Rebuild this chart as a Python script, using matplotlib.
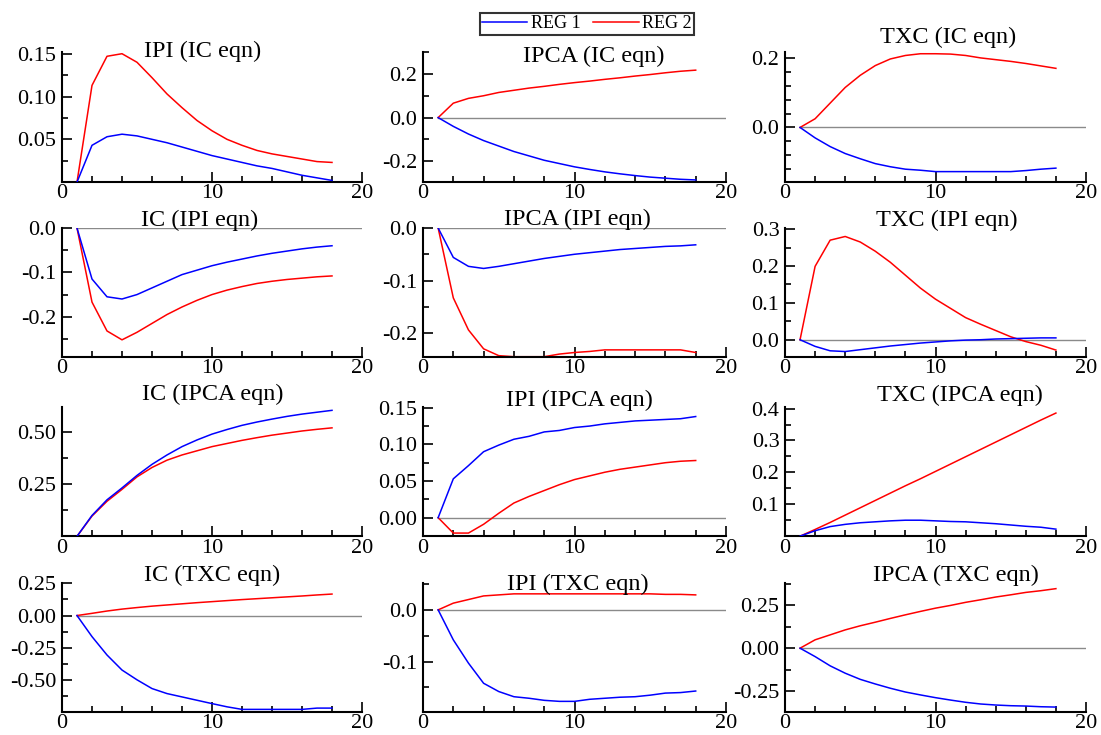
"""Impulse responses, REG 1 vs REG 2, 4x3 grid (OxMetrics look)."""
import matplotlib
matplotlib.use("Agg")
import matplotlib.pyplot as plt
from matplotlib.ticker import MultipleLocator, FormatStrFormatter

plt.rcParams.update({
    "font.family": ["Liberation Serif", "DejaVu Serif"],
    "axes.unicode_minus": False,
})

W, H = 1101, 735

horizon = list(range(1, 19))

titles = [
    "IPI (IC eqn)", "IPCA (IC eqn)", "TXC (IC eqn)",
    "IC (IPI eqn)", "IPCA (IPI eqn)", "TXC (IPI eqn)",
    "IC (IPCA eqn)", "IPI (IPCA eqn)", "TXC (IPCA eqn)",
    "IC (TXC eqn)", "IPI (TXC eqn)", "IPCA (TXC eqn)",
]

# row 1: IC equation
ipi_ic_reg1 = [0, 0.043, 0.053, 0.056, 0.054, 0.050, 0.046, 0.041, 0.036,
               0.031, 0.027, 0.023, 0.019, 0.016, 0.012, 0.008, 0.005, 0.002]
ipi_ic_reg2 = [0, 0.113, 0.147, 0.150, 0.140, 0.122, 0.103, 0.087, 0.072,
               0.060, 0.050, 0.043, 0.037, 0.033, 0.030, 0.027, 0.024, 0.023]
ipca_ic_reg1 = [0, -0.040, -0.075, -0.105, -0.130, -0.155, -0.175, -0.195, -0.210,
                -0.225, -0.237, -0.248, -0.257, -0.265, -0.272, -0.277, -0.282, -0.285]
ipca_ic_reg2 = [0, 0.066, 0.088, 0.100, 0.115, 0.125, 0.135, 0.143, 0.152,
                0.160, 0.167, 0.175, 0.182, 0.190, 0.197, 0.205, 0.212, 0.217]
txc_ic_reg1 = [0, -0.030, -0.055, -0.075, -0.090, -0.104, -0.113, -0.120, -0.123,
               -0.127, -0.127, -0.127, -0.127, -0.127, -0.127, -0.124, -0.120, -0.117]
txc_ic_reg2 = [0, 0.025, 0.070, 0.115, 0.150, 0.178, 0.197, 0.207, 0.212,
               0.212, 0.211, 0.207, 0.200, 0.195, 0.190, 0.184, 0.177, 0.170]

# row 2: IPI equation
ic_ipi_reg1 = [0, -0.115, -0.155, -0.160, -0.150, -0.135, -0.120, -0.105, -0.095,
               -0.085, -0.077, -0.070, -0.063, -0.057, -0.052, -0.047, -0.043, -0.040]
ic_ipi_reg2 = [0, -0.167, -0.232, -0.252, -0.235, -0.215, -0.195, -0.178, -0.163,
               -0.150, -0.140, -0.132, -0.125, -0.120, -0.116, -0.113, -0.110, -0.108]
ipca_ipi_reg1 = [0, -0.056, -0.073, -0.077, -0.073, -0.068, -0.063, -0.058, -0.054,
                 -0.050, -0.047, -0.044, -0.041, -0.039, -0.037, -0.035, -0.034, -0.032]
ipca_ipi_reg2 = [0, -0.133, -0.194, -0.230, -0.243, -0.245, -0.245, -0.245, -0.240,
                 -0.237, -0.235, -0.232, -0.232, -0.232, -0.232, -0.232, -0.232, -0.237]
txc_ipi_reg1 = [0, -0.018, -0.030, -0.032, -0.027, -0.022, -0.017, -0.013, -0.009,
                -0.006, -0.003, -0.001, 0.000, 0.002, 0.003, 0.004, 0.005, 0.005]
txc_ipi_reg2 = [0, 0.199, 0.270, 0.280, 0.265, 0.240, 0.210, 0.175, 0.140,
                0.110, 0.085, 0.060, 0.042, 0.025, 0.008, -0.005, -0.015, -0.028]

# row 3: IPCA equation
ic_ipca_reg1 = [0, 0.100, 0.175, 0.232, 0.292, 0.345, 0.390, 0.430, 0.462,
                0.490, 0.512, 0.532, 0.548, 0.562, 0.575, 0.586, 0.595, 0.604]
ic_ipca_reg2 = [0, 0.097, 0.168, 0.225, 0.285, 0.330, 0.365, 0.390, 0.410,
                0.430, 0.445, 0.460, 0.473, 0.485, 0.495, 0.505, 0.513, 0.520]
ipi_ipca_reg1 = [0, 0.053, 0.071, 0.090, 0.099, 0.107, 0.111, 0.117, 0.119,
                 0.123, 0.125, 0.128, 0.130, 0.132, 0.133, 0.134, 0.135, 0.138]
ipi_ipca_reg2 = [0, -0.021, -0.021, -0.009, 0.006, 0.020, 0.029, 0.037, 0.045,
                 0.052, 0.057, 0.062, 0.066, 0.069, 0.072, 0.075, 0.077, 0.078]
txc_ipca_reg1 = [0, 0.017, 0.030, 0.037, 0.042, 0.045, 0.048, 0.050, 0.050,
                 0.048, 0.046, 0.045, 0.042, 0.039, 0.035, 0.031, 0.028, 0.022]
txc_ipca_reg2 = [0, 0.021, 0.043, 0.066, 0.089, 0.112, 0.135, 0.158, 0.180,
                 0.203, 0.226, 0.249, 0.272, 0.295, 0.318, 0.341, 0.364, 0.386]

# row 4: TXC equation
ic_txc_reg1 = [0, -0.164, -0.307, -0.424, -0.500, -0.568, -0.607, -0.633, -0.659,
               -0.685, -0.710, -0.730, -0.730, -0.730, -0.730, -0.730, -0.720, -0.720]
ic_txc_reg2 = [0, 0.017, 0.035, 0.050, 0.062, 0.073, 0.082, 0.091, 0.100,
               0.108, 0.116, 0.124, 0.131, 0.138, 0.145, 0.152, 0.160, 0.167]
ipi_txc_reg1 = [0, -0.058, -0.103, -0.142, -0.158, -0.168, -0.171, -0.175, -0.177,
                -0.177, -0.173, -0.171, -0.169, -0.168, -0.165, -0.161, -0.160, -0.157]
ipi_txc_reg2 = [0, 0.013, 0.020, 0.027, 0.029, 0.031, 0.031, 0.031, 0.031,
                0.031, 0.031, 0.031, 0.031, 0.031, 0.031, 0.030, 0.030, 0.029]
ipca_txc_reg1 = [0, -0.049, -0.103, -0.146, -0.182, -0.209, -0.234, -0.256, -0.273,
                 -0.289, -0.303, -0.316, -0.326, -0.332, -0.336, -0.338, -0.342, -0.344]
ipca_txc_reg2 = [0, 0.049, 0.078, 0.107, 0.131, 0.152, 0.174, 0.195, 0.215,
                 0.234, 0.250, 0.268, 0.283, 0.299, 0.312, 0.326, 0.336, 0.348]

reg1 = [ipi_ic_reg1, ipca_ic_reg1, txc_ic_reg1,
        ic_ipi_reg1, ipca_ipi_reg1, txc_ipi_reg1,
        ic_ipca_reg1, ipi_ipca_reg1, txc_ipca_reg1,
        ic_txc_reg1, ipi_txc_reg1, ipca_txc_reg1]
reg2 = [ipi_ic_reg2, ipca_ic_reg2, txc_ic_reg2,
        ic_ipi_reg2, ipca_ipi_reg2, txc_ipi_reg2,
        ic_ipca_reg2, ipi_ipca_reg2, txc_ipca_reg2,
        ic_txc_reg2, ipi_txc_reg2, ipca_txc_reg2]

# axis ranges / tick steps / label decimals per panel
ylims = [(0.0005, 0.152), (-0.293, 0.30), (-0.156, 0.217),
         (-0.29, 0.0), (-0.245, 0.0), (-0.046, 0.303),
         (0.0015, 0.62), (-0.025, 0.151), (0.0005, 0.405),
         (-0.748, 0.253), (-0.197, 0.052), (-0.371, 0.381)]
major = [0.05, 0.2, 0.2, 0.1, 0.1, 0.1, 0.25, 0.05, 0.1, 0.25, 0.1, 0.25]
minor = [0.025, 0.1, 0.04, 0.05, 0.05, 0.05, 0.125, 0.025, 0.05, 0.125, 0.05, 0.125]
decimals = [2, 1, 1, 1, 1, 1, 2, 2, 1, 2, 1, 2]

# layout in pixels
col_left = [62, 423, 785]
col_width = [300, 303, 301]
row_top = [52, 228, 407, 583]
row_bottom = [181.7, 356.7, 536, 711.7]
title_xy = [(203, 57), (594, 62), (948, 43),
            (200, 226), (577, 225), (947, 226),
            (213, 400), (579, 406), (960, 401),
            (212, 581), (578, 590), (956, 581)]

fig = plt.figure(figsize=(W / 100, H / 100), dpi=100)

for i in range(12):
    r, c = divmod(i, 3)
    ax = fig.add_axes([col_left[c] / W, 1 - row_bottom[r] / H,
                       col_width[c] / W, (row_bottom[r] - row_top[r]) / H])
    ax.plot([1, 20], [0, 0], color="#8a8a8a", lw=1.0, zorder=1)
    ax.plot(horizon, reg1[i], color="#0000ff", lw=1.1, zorder=3)
    ax.plot(horizon, reg2[i], color="#ff0000", lw=1.1, zorder=2)
    ax.set_xlim(0, 20)
    ax.set_ylim(*ylims[i])
    for s in ("top", "right"):
        ax.spines[s].set_visible(False)
    for s in ("left", "bottom"):
        ax.spines[s].set_linewidth(1.5)
    ax.xaxis.set_major_locator(MultipleLocator(10))
    ax.xaxis.set_minor_locator(MultipleLocator(2))
    ax.yaxis.set_major_locator(MultipleLocator(major[i]))
    ax.yaxis.set_minor_locator(MultipleLocator(minor[i]))
    ax.yaxis.set_major_formatter(FormatStrFormatter(f"%.{decimals[i]}f"))
    ax.tick_params(which="both", direction="in", width=1.2, labelsize=16, colors="black")
    ax.tick_params(which="major", length=7, pad=4)
    ax.tick_params(which="minor", length=4)
    ax.tick_params(axis="x", which="major", pad=2)
    ax.set_facecolor("none")
    tx, ty = title_xy[i]
    fig.text(tx / W, 1 - ty / H, titles[i], ha="center", va="baseline", fontsize=17.5)

# legend on top centre
lines = [plt.Line2D([], [], color="#0000ff", lw=1.1),
         plt.Line2D([], [], color="#ff0000", lw=1.1)]
leg = fig.legend(lines, ["REG 1", "REG 2"], loc="center", ncol=2,
                 bbox_to_anchor=(587 / W, 1 - 24 / H), fontsize=13,
                 frameon=True, fancybox=False, handlelength=2.5,
                 handletextpad=0.2, columnspacing=0.7, borderpad=0.15,
                 borderaxespad=0)
leg.get_frame().set_edgecolor("black")
leg.get_frame().set_linewidth(1.5)

fig.savefig("out.png", dpi=100)
